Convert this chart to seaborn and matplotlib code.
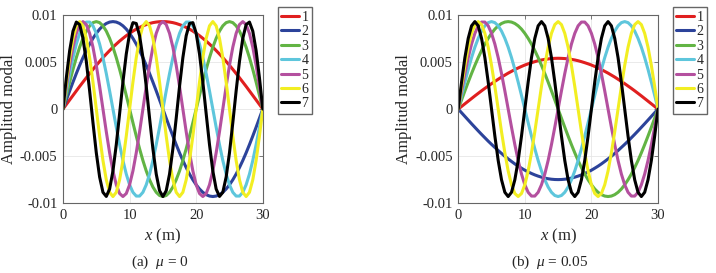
import numpy as np
import pandas as pd
import matplotlib
matplotlib.use("Agg")
import matplotlib.pyplot as plt
import seaborn as sns

# sample positions along the span [m]
x_m = np.linspace(0, 30, 61)

# modal amplitudes, in units of 1e-3
# (a) mu = 0
a_mode1 = [0, 0.49, 0.97, 1.45, 1.93, 2.41, 2.87, 3.33, 3.78, 4.22, 4.65, 5.06, 5.47, 5.85, 6.22, 6.58,
           6.91, 7.23, 7.52, 7.80, 8.05, 8.29, 8.50, 8.68, 8.85, 8.98, 9.10, 9.19, 9.25, 9.29, 9.30,
           9.29, 9.25, 9.19, 9.10, 8.98, 8.85, 8.68, 8.50, 8.29, 8.05, 7.80, 7.52, 7.23, 6.91, 6.58,
           6.22, 5.85, 5.47, 5.06, 4.65, 4.22, 3.78, 3.33, 2.87, 2.41, 1.93, 1.45, 0.97, 0.49, 0]
a_mode2 = [0, 0.97, 1.93, 2.87, 3.78, 4.65, 5.47, 6.22, 6.91, 7.52, 8.05, 8.50, 8.85, 9.10, 9.25, 9.30,
           9.25, 9.10, 8.85, 8.50, 8.05, 7.52, 6.91, 6.22, 5.47, 4.65, 3.78, 2.87, 1.93, 0.97, 0,
           -0.97, -1.93, -2.87, -3.78, -4.65, -5.47, -6.22, -6.91, -7.52, -8.05, -8.50, -8.85, -9.10, -9.25, -9.30,
           -9.25, -9.10, -8.85, -8.50, -8.05, -7.52, -6.91, -6.22, -5.47, -4.65, -3.78, -2.87, -1.93, -0.97, 0]
a_mode3 = [0, 1.45, 2.87, 4.22, 5.47, 6.58, 7.52, 8.29, 8.85, 9.19, 9.30, 9.19, 8.85, 8.29, 7.52, 6.58, 5.47, 4.22, 2.87, 1.45,
           0, -1.45, -2.87, -4.22, -5.47, -6.58, -7.52, -8.29, -8.85, -9.19, -9.30, -9.19, -8.85, -8.29, -7.52, -6.58, -5.47, -4.22, -2.87, -1.45,
           0, 1.45, 2.87, 4.22, 5.47, 6.58, 7.52, 8.29, 8.85, 9.19, 9.30, 9.19, 8.85, 8.29, 7.52, 6.58, 5.47, 4.22, 2.87, 1.45,
           0]
a_mode4 = [0, 1.93, 3.78, 5.47, 6.91, 8.05, 8.85, 9.25, 9.25, 8.85, 8.05, 6.91, 5.47, 3.78, 1.93,
           0, -1.93, -3.78, -5.47, -6.91, -8.05, -8.85, -9.25, -9.25, -8.85, -8.05, -6.91, -5.47, -3.78, -1.93,
           0, 1.93, 3.78, 5.47, 6.91, 8.05, 8.85, 9.25, 9.25, 8.85, 8.05, 6.91, 5.47, 3.78, 1.93,
           0, -1.93, -3.78, -5.47, -6.91, -8.05, -8.85, -9.25, -9.25, -8.85, -8.05, -6.91, -5.47, -3.78, -1.93,
           0]
a_mode5 = [0, 2.41, 4.65, 6.58, 8.05, 8.98, 9.30, 8.98, 8.05, 6.58, 4.65, 2.41,
           0, -2.41, -4.65, -6.58, -8.05, -8.98, -9.30, -8.98, -8.05, -6.58, -4.65, -2.41,
           0, 2.41, 4.65, 6.58, 8.05, 8.98, 9.30, 8.98, 8.05, 6.58, 4.65, 2.41,
           0, -2.41, -4.65, -6.58, -8.05, -8.98, -9.30, -8.98, -8.05, -6.58, -4.65, -2.41,
           0, 2.41, 4.65, 6.58, 8.05, 8.98, 9.30, 8.98, 8.05, 6.58, 4.65, 2.41,
           0]
a_mode6 = [0, 2.87, 5.47, 7.52, 8.85, 9.30, 8.85, 7.52, 5.47, 2.87,
           0, -2.87, -5.47, -7.52, -8.85, -9.30, -8.85, -7.52, -5.47, -2.87,
           0, 2.87, 5.47, 7.52, 8.85, 9.30, 8.85, 7.52, 5.47, 2.87,
           0, -2.87, -5.47, -7.52, -8.85, -9.30, -8.85, -7.52, -5.47, -2.87,
           0, 2.87, 5.47, 7.52, 8.85, 9.30, 8.85, 7.52, 5.47, 2.87,
           0, -2.87, -5.47, -7.52, -8.85, -9.30, -8.85, -7.52, -5.47, -2.87,
           0]
a_mode7 = [0, 3.33, 6.22, 8.29, 9.25, 8.98, 7.52, 5.06, 1.93, -1.45, -4.65, -7.23, -8.85, -9.29, -8.50,
           -6.58, -3.78, -0.49, 2.87, 5.85, 8.05, 9.19, 9.10, 7.80, 5.47, 2.41, -0.97, -4.22, -6.91, -8.68,
           -9.30,
           -8.68, -6.91, -4.22, -0.97, 2.41, 5.47, 7.80, 9.10, 9.19, 8.05, 5.85, 2.87, -0.49, -3.78, -6.58,
           -8.50, -9.29, -8.85, -7.23, -4.65, -1.45, 1.93, 5.06, 7.52, 8.98, 9.25, 8.29, 6.22, 3.33, 0]

# (b) mu = 0.05 : first two modes are single half-waves, the rest match (a) shifted by one
b_mode1 = [0, 0.28, 0.56, 0.84, 1.12, 1.40, 1.67, 1.94, 2.20, 2.45, 2.70, 2.94, 3.17, 3.40, 3.61, 3.82,
           4.01, 4.20, 4.37, 4.53, 4.68, 4.81, 4.93, 5.04, 5.14, 5.22, 5.28, 5.33, 5.37, 5.39, 5.40,
           5.39, 5.37, 5.33, 5.28, 5.22, 5.14, 5.04, 4.93, 4.81, 4.68, 4.53, 4.37, 4.20, 4.01, 3.82,
           3.61, 3.40, 3.17, 2.94, 2.70, 2.45, 2.20, 1.94, 1.67, 1.40, 1.12, 0.84, 0.56, 0.28, 0]
b_mode2 = [0, -0.39, -0.78, -1.17, -1.56, -1.94, -2.32, -2.69, -3.05, -3.41, -3.75, -4.08, -4.41, -4.72, -5.02, -5.30,
           -5.57, -5.83, -6.07, -6.29, -6.50, -6.68, -6.85, -7.00, -7.13, -7.24, -7.34, -7.41, -7.46, -7.49, -7.50,
           -7.49, -7.46, -7.41, -7.34, -7.24, -7.13, -7.00, -6.85, -6.68, -6.50, -6.29, -6.07, -5.83, -5.57, -5.30,
           -5.02, -4.72, -4.41, -4.08, -3.75, -3.41, -3.05, -2.69, -2.32, -1.94, -1.56, -1.17, -0.78, -0.39, 0]
b_mode3 = a_mode2
b_mode4 = a_mode3
b_mode5 = a_mode4
b_mode6 = a_mode5
b_mode7 = a_mode6

mode_labels = ['1', '2', '3', '4', '5', '6', '7']
mode_colors = ['#e01f1f', '#2c439a', '#62b444', '#5ec6dc', '#b4509f', '#f2ee22', '#000000']
y_ticks = [-0.01, -0.005, 0, 0.005, 0.01]
y_tick_labels = ['-0.01', '-0.005', '0', '0.005', '0.01']
x_ticks = [0, 10, 20, 30]
captions = ['(a)  $\\mu$ = 0', '(b)  $\\mu$ = 0.05']


def modes_df(curves):
    frames = []
    for label, vals in zip(mode_labels, curves):
        frames.append(pd.DataFrame({'x [m]': x_m, 'amp': np.array(vals) * 1e-3, 'mode': label}))
    return pd.concat(frames, ignore_index=True)


panels = [
    modes_df([a_mode1, a_mode2, a_mode3, a_mode4, a_mode5, a_mode6, a_mode7]),
    modes_df([b_mode1, b_mode2, b_mode3, b_mode4, b_mode5, b_mode6, b_mode7]),
]

sns.set_style('whitegrid')
plt.rcParams['font.family'] = ['Liberation Serif', 'DejaVu Serif']
plt.rcParams['mathtext.fontset'] = 'custom'
plt.rcParams['mathtext.rm'] = 'Liberation Serif'
plt.rcParams['mathtext.it'] = 'Liberation Serif:italic'

fig = plt.figure(figsize=(7.16, 2.73), dpi=100)
axes = [fig.add_axes([0.088, 0.256, 0.279, 0.689]),
        fig.add_axes([0.640, 0.256, 0.279, 0.689])]
caption_x = [160 / 716, 550 / 716]

for ax, df, cap, cx in zip(axes, panels, captions, caption_x):
    sns.lineplot(data=df, x='x [m]', y='amp', hue='mode', hue_order=mode_labels,
                 palette=mode_colors, linewidth=2.2, sort=False, legend=False, ax=ax)
    ax.set_xlim(0, 30)
    ax.set_ylim(-0.01, 0.01)
    ax.set_xticks(x_ticks, [str(t) for t in x_ticks])
    ax.set_yticks(y_ticks, y_tick_labels)
    ax.tick_params(direction='in', length=3, width=0.6, color='#666666',
                   labelsize=10.5, pad=4, top=True, right=True)
    ax.grid(True, color='#e6e6e6', linewidth=0.6)
    for s in ax.spines.values():
        s.set_visible(True)
        s.set_color('#666666')
        s.set_linewidth(0.8)
    ax.set_xlabel('$x$ (m)', fontsize=12)
    ax.set_ylabel('Amplitud modal', fontsize=12)
    ax.xaxis.set_label_coords(0.5, -0.125)
    ax.yaxis.set_label_coords(-0.23, 0.5)
    ax.legend(ax.lines, mode_labels, loc='upper left', bbox_to_anchor=(1.075, 1.04),
              borderaxespad=0, fancybox=False, edgecolor='#666666', framealpha=1,
              fontsize=10, handlelength=1.25, handletextpad=0.2, labelspacing=0.1,
              borderpad=0.25)
    fig.text(cx, 1 - 262 / 273, cap, ha='center', va='center', fontsize=11)

fig.savefig('out.png', dpi=100)
